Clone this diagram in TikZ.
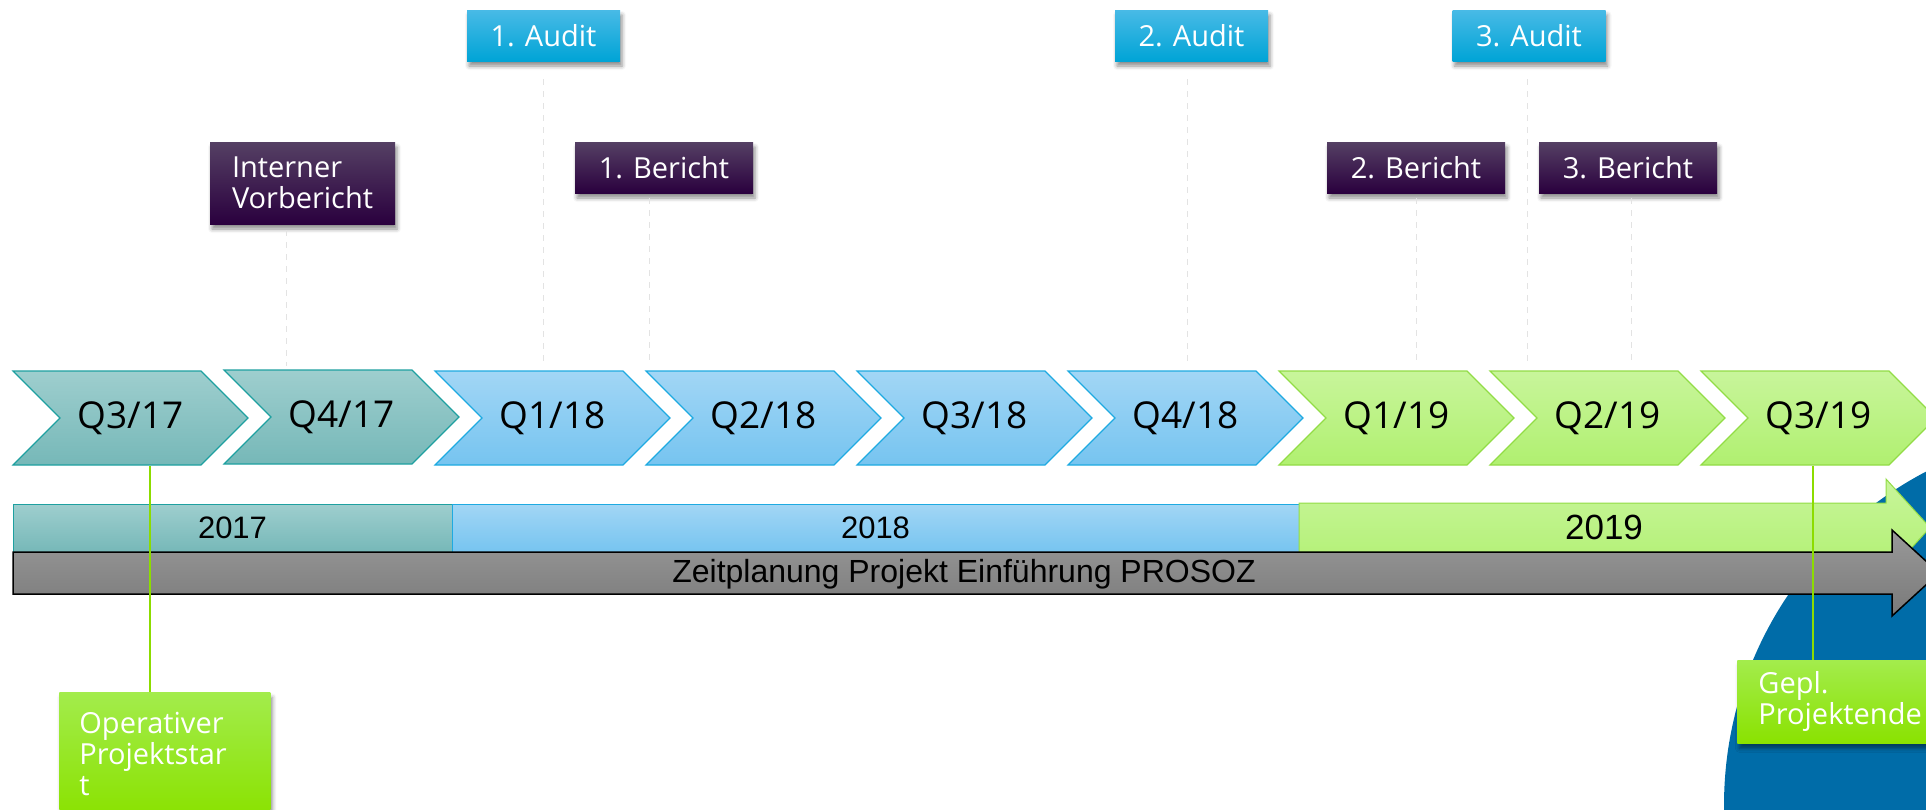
\documentclass[tikz,border=0pt]{standalone}
\usepackage{fontspec}
\setmainfont{Liberation Sans}
\newfontfamily\qfont{Open Sans}
\usepackage{tikz}
\usetikzlibrary{positioning,shapes.symbols,shadows.blur}

\definecolor{tealtop}{RGB}{158,206,206}
\definecolor{tealbot}{RGB}{118,184,184}
\definecolor{tealline}{RGB}{30,160,160}
\definecolor{bluetop}{RGB}{162,214,245}
\definecolor{bluebot}{RGB}{118,196,240}
\definecolor{blueline}{RGB}{30,170,225}
\definecolor{greentop}{RGB}{200,245,155}
\definecolor{greenbot}{RGB}{176,240,112}
\definecolor{greenline}{RGB}{146,220,70}
\definecolor{audittop}{RGB}{72,186,230}
\definecolor{auditbot}{RGB}{0,164,214}
\definecolor{berichttop}{RGB}{85,64,100}
\definecolor{berichtbot}{RGB}{42,0,62}
\definecolor{milestonetop}{RGB}{163,236,76}
\definecolor{milestonebot}{RGB}{138,226,0}
\definecolor{milestoneline}{RGB}{140,220,0}
\definecolor{backblob}{RGB}{0,108,168}

\begin{document}
\begin{tikzpicture}[x=0.5pt,y=-0.5pt,
    quarter/.style={signal, signal from=west, signal to=east, signal pointer angle=90,
      minimum width=117.5pt, minimum height=47pt, inner sep=0pt, line width=0.6pt,
      font=\qfont\fontsize{18.5}{20}\selectfont}]
    \tikzstyle{q17}=[quarter, draw=tealline, top color=tealtop, bottom color=tealbot]
    \tikzstyle{q18}=[quarter, draw=blueline, top color=bluetop, bottom color=bluebot]
    \tikzstyle{q19}=[quarter, draw=greenline, top color=greentop, bottom color=greenbot]
    \tikzstyle{event}=[rectangle, inner sep=0pt, text=white, font=\qfont\fontsize{14.5}{15.5}\selectfont,
      blur shadow={shadow xshift=1pt, shadow yshift=-2.5pt, shadow blur radius=2pt, shadow opacity=45}]
    \tikzstyle{audit}=[event, top color=audittop, bottom color=auditbot, minimum width=76.5pt, minimum height=25.5pt]
    \tikzstyle{bericht}=[event, top color=berichttop, bottom color=berichtbot, minimum width=89pt, minimum height=25.5pt]
    \tikzstyle{milestone}=[event, top color=milestonetop, bottom color=milestonebot, align=left, anchor=north west]
    \tikzstyle{tick}=[gray!22, dashed, line width=0.5pt]
    \tikzstyle{pin}=[milestoneline, line width=0.6pt]
    \tikzstyle{yearbar}=[rectangle, inner sep=0pt, line width=0.5pt, minimum height=24pt, font=\fontsize{15.5}{17}\selectfont]

      \useasboundingbox (0,0) rectangle (1926,809);
      \clip (0,0) rectangle (1926,809);

      % circle behind the end of the time line
      \fill[backblob] (2100,805) circle[radius=188pt];

      % quarters
      \node[q17] (q317) at (130.5,418) {Q3/17};
      \node[q17] (q417) at (341.5,417) {Q4/17};
      \node[q18] (q118) at (552.5,418) {Q1/18};
      \node[q18] (q218) at (763.5,418) {Q2/18};
      \node[q18] (q318) at (974.5,418) {Q3/18};
      \node[q18] (q418) at (1185.5,418) {Q4/18};
      \node[q19] (q119) at (1396.5,418) {Q1/19};
      \node[q19] (q219) at (1607.5,418) {Q2/19};
      \node[q19] (q319) at (1818.5,418) {Q3/19};

      % audits and reports
      \node[audit] (audit1) at (543.5,35.5) {1. Audit};
      \node[audit] (audit2) at (1191.5,35.5) {2. Audit};
      \node[audit] (audit3) at (1529,35.5) {3. Audit};
      \node[bericht, text width=70.5pt, inner xsep=11pt, minimum height=41pt, align=left] (vorbericht) at (302.5,183) {Interner\\Vorbericht};
      \node[bericht] (bericht1) at (664,167.5) {1. Bericht};
      \node[bericht] (bericht2) at (1416,167.5) {2. Bericht};
      \node[bericht] (bericht3) at (1628,167.5) {3. Bericht};

      \coordinate (tvor) at (286,366);
      \coordinate (ta1) at (543,366);
      \coordinate (tb1) at (649,366);
      \coordinate (ta2) at (1187,366);
      \coordinate (tb2) at (1416,366);
      \coordinate (ta3) at (1527,366);
      \coordinate (tb3) at (1631,366);
      \draw[tick, shorten <=3pt] (vorbericht.south -| tvor) -- (tvor);
      \draw[tick, shorten <=9pt] (audit1.south -| ta1) -- (ta1);
      \draw[tick, shorten <=2.5pt] (bericht1.south -| tb1) -- (tb1);
      \draw[tick, shorten <=9pt] (audit2.south -| ta2) -- (ta2);
      \draw[tick, shorten <=2.5pt] (bericht2.south -| tb2) -- (tb2);
      \draw[tick, shorten <=9pt] (audit3.south -| ta3) -- (ta3);
      \draw[tick, shorten <=2.5pt] (bericht3.south -| tb3) -- (tb3);

      % years
      \node[yearbar, draw=tealline, top color=tealtop, bottom color=tealbot, minimum width=219.5pt] (y2017) at (232.5,528) {2017};
      \node[yearbar, draw=blueline, top color=bluetop, bottom color=bluebot, minimum width=423.5pt] (y2018) at (875.5,528) {2018};
      \path[draw=greenline, line width=0.5pt, top color=greentop, bottom color=greenbot]
        (1299,503) -- (1886,503) -- (1886,479) -- (1930,527.5) -- (1886,576) -- (1886,552) -- (1299,552) -- cycle;
      \node[font=\fontsize{17.5}{19}\selectfont] (y2019) at (1604,527) {2019};

      % project arrow
      \path[draw=black, line width=0.75pt, top color=gray!80, bottom color=gray!95!black]
        (13,552) -- (1892,552) -- (1892,530) -- (1939,573) -- (1892,616) -- (1892,594) -- (13,594) -- cycle;
      \node[font=\fontsize{16}{17}\selectfont] (plan) at (964,574) {Zeitplanung Projekt Einführung PROSOZ};

      % milestones
      \node[milestone, text width=85.5pt, inner xsep=10pt, minimum height=62pt] (start) at (59,692) {Operativer\\Projektstar\\t};
      \node[milestone, text width=89.5pt, inner xsep=10.5pt, minimum height=41.5pt] (ende) at (1737,660) {Gepl.\\Projektende};
      \draw[pin] ([xshift=9.75pt]q317.south) -- ([xshift=9.75pt]q317.south |- start.north);
      \draw[pin] ([xshift=-2.75pt]q319.south) -- ([xshift=-2.75pt]q319.south |- ende.north);
\end{tikzpicture}
\end{document}
